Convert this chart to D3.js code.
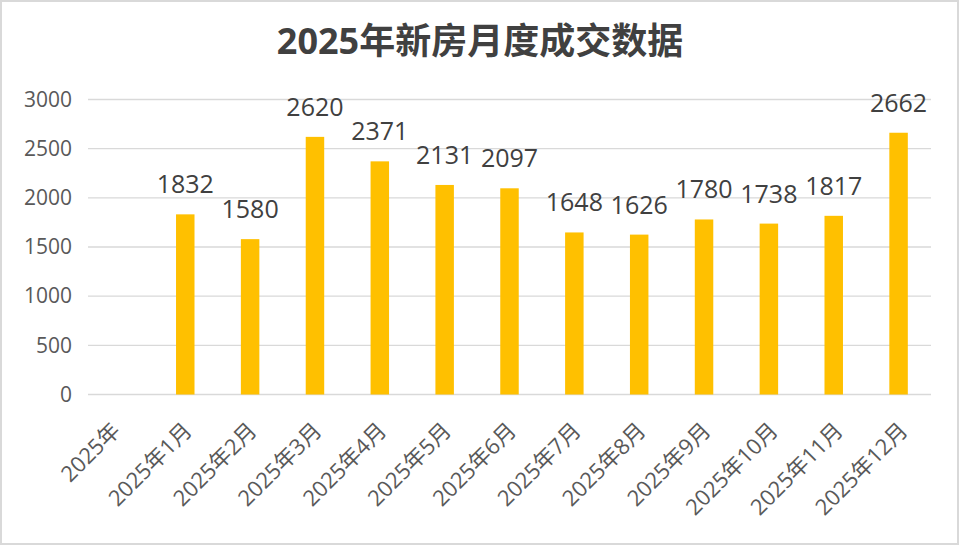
<!DOCTYPE html>
<html>
<head>
<meta charset="utf-8">
<script src="https://cdn.jsdelivr.net/npm/d3@7"></script>
<style>
  body { margin: 0; background: #fff; }
  text { font-family: "Open Sans", "Noto Sans CJK SC", sans-serif; }
</style>
</head>
<body>
<div id="vis"></div>
<script>
// data
let categories = ['2025年', '2025年1月', '2025年2月', '2025年3月', '2025年4月', '2025年5月', '2025年6月',
  '2025年7月', '2025年8月', '2025年9月', '2025年10月', '2025年11月', '2025年12月']
let values = [null, 1832, 1580, 2620, 2371, 2131, 2097, 1648, 1626, 1780, 1738, 1817, 2662]
let yTicks = [0, 500, 1000, 1500, 2000, 2500, 3000]
let title = '2025年新房月度成交数据'

let width = 960, height = 546
let margin = { top: 99.5, left: 88, right: 29, bottom: 151.5 }

let svg = d3.select('#vis')
  .append('svg')
  .attr('width', width)
  .attr('height', height)

// outer frame
svg.append('rect')
  .attr('x', 1).attr('y', 1)
  .attr('width', width - 3).attr('height', height - 3)
  .attr('fill', '#fff')
  .attr('stroke', '#d9d9d9')
  .attr('stroke-width', 2)

let x = d3.scaleBand()
  .domain(categories)
  .range([margin.left, width - margin.right])
  .paddingInner(0.715)
  .paddingOuter(0.3575)

let y = d3.scaleLinear()
  .domain([0, 3000])
  .range([height - margin.bottom, margin.top])

// title
svg.append('text')
  .attr('x', 480)
  .attr('y', 54)
  .attr('text-anchor', 'middle')
  .attr('font-size', 36)
  .attr('font-weight', 'bold')
  .attr('fill', '#404040')
  .text(title)

// gridlines
svg.append('g')
  .selectAll('line')
  .data(yTicks)
  .join('line')
  .attr('x1', margin.left)
  .attr('x2', width - margin.right)
  .attr('y1', d => y(d))
  .attr('y2', d => y(d))
  .attr('stroke', '#d9d9d9')
  .attr('stroke-width', 1.3)

// y axis labels
let yAxis = svg.append('g')
  .attr('transform', `translate(${margin.left - 16},0)`)
  .call(d3.axisLeft(y).tickValues(yTicks).tickFormat(d3.format('d')).tickSize(0).tickPadding(0))
yAxis.select('.domain').remove()
yAxis.selectAll('text')
  .attr('font-size', 21)
  .attr('fill', '#595959')
  .attr('font-family', '"Open Sans", "Noto Sans CJK SC", sans-serif')

// bars
let barData = categories.map((c, i) => ({ c: c, v: values[i] })).filter(d => d.v != null)

svg.append('g')
  .selectAll('rect')
  .data(barData)
  .join('rect')
  .attr('x', d => x(d.c))
  .attr('y', d => y(d.v))
  .attr('width', x.bandwidth())
  .attr('height', d => y(0) - y(d.v))
  .attr('fill', '#ffc000')

// value labels
svg.append('g')
  .selectAll('text')
  .data(barData)
  .join('text')
  .attr('x', d => x(d.c) + x.bandwidth() / 2)
  .attr('y', d => y(d.v) - 21)
  .attr('text-anchor', 'middle')
  .attr('font-size', 25)
  .attr('fill', '#404040')
  .text(d => d.v)

// x axis labels (rotated)
let xLabels = svg.append('g')
  .selectAll('text')
  .data(categories)
  .join('text')
  .attr('text-anchor', 'end')
  .attr('font-size', 22)
  .attr('fill', '#595959')
  .text(d => d)

xLabels.each(function (d) {
  let len = this.getComputedTextLength()
  let cx = x(d) + x.bandwidth() / 2 + 1 + 0.2 * (len - 72)
  d3.select(this).attr('transform', `translate(${cx},432) rotate(-45)`)
})
</script>
</body>
</html>
